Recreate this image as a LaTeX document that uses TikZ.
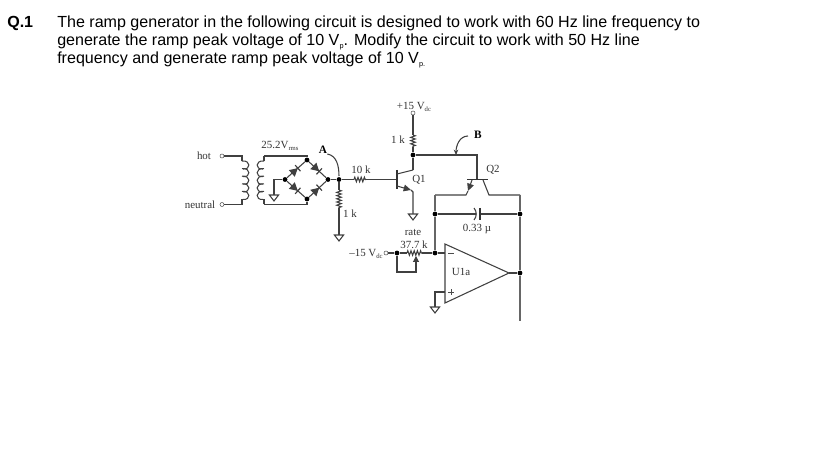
\documentclass[tikz,border=0pt]{standalone}
\usepackage{fontspec}
\setmainfont{Liberation Serif}
\newfontfamily\headfont{Liberation Sans}
\usetikzlibrary{arrows.meta,decorations.pathmorphing,decorations.markings}
\newcommand{\tinysub}[1]{\raisebox{-0.25ex}{\fontsize{5.5}{6}\selectfont #1}}
\newcommand{\lblsub}[1]{\raisebox{-0.3ex}{\fontsize{5}{6}\selectfont #1}}

\begin{document}
\begin{tikzpicture}[
  x=0.75pt,y=-0.75pt,
  wire/.style={draw=black!75,line width=0.8pt},
  heavy/.style={draw=black!60,line width=1.2pt},
  head/.style={anchor=west,inner sep=0pt,font=\fontsize{12.05}{14}\headfont},
  lbl/.style={inner sep=0pt,text=black!80,font=\fontsize{8.2}{10}\selectfont},
  tag/.style={inner sep=0pt,font=\fontsize{8.5}{10}\selectfont\bfseries},
  dot/.style={circle,fill=black,inner sep=0pt,minimum size=3.6pt},
  term/.style={circle,draw=black!70,fill=white,line width=0.4pt,inner sep=0pt,minimum size=3pt},
  resistor/.style={wire,decorate,decoration={zigzag,amplitude=1.7pt,segment length=2.4pt}},
  diode/.style={wire,postaction={decorate,decoration={markings,mark=at position 0.6 with {
    \arrow{Triangle[length=6pt,width=6.5pt]}\draw[line width=0.9pt] (0,-3pt) -- (0,3pt);}}}},
  gnd/.pic={\draw[wire] (-4.6,0) -- (4.6,0) -- (0,6) -- cycle;}
]
\useasboundingbox (0,0) rectangle (819,460);

% question text
\node[head,font=\fontsize{12.05}{14}\headfont\bfseries] (qnum) at (7,23) {Q.1};
\node[head] (line1) at (57,23) {The ramp generator in the following circuit is designed to work with 60 Hz line frequency to};
\node[head] (line2) at (57,42) {generate the ramp peak voltage of 10 V\tinysub{p}. Modify the circuit to work with 50 Hz line};
\node[head] (line3) at (57,60) {frequency and generate ramp peak voltage of 10 V\tinysub{p.}};

% transformer
\node[term] (hot) at (222,156) {};
\node[term] (neutral) at (222,204.5) {};
\coordinate (pritop) at (242,156);
\coordinate (pribot) at (242,204.5);
\coordinate (sectop) at (264,156);
\coordinate (secbot) at (264,204.5);
\draw[wire] (hot) -- (pritop) -- (242,161);
\draw[wire] (neutral) -- (pribot) -- (242,199);
\draw[wire] (sectop) -- (264,161);
\draw[wire] (secbot) -- (264,199);
\foreach \k in {0,...,4}{
  \draw[wire] (242,161+7.6*\k) .. controls (251,160+7.6*\k) and (251,170+7.6*\k) .. (243,169+7.6*\k);
  \draw[wire] (264,161+7.6*\k) .. controls (255,160+7.6*\k) and (255,170+7.6*\k) .. (263,169+7.6*\k);
}

% bridge
\node[dot] (brtop) at (307,160) {};
\node[dot] (brbot) at (307,199) {};
\node[dot] (brleft) at (285,179.5) {};
\node[dot] (brright) at (328,179.5) {};
\draw[diode] (brleft) -- (brtop);
\draw[diode] (brtop) -- (brright);
\draw[diode] (brleft) -- (brbot);
\draw[diode] (brbot) -- (brright);
\draw[wire] (sectop) -- (307,156) -- (brtop);
\draw[wire] (secbot) -- (307,204.5) -- (brbot);
\coordinate (gndA) at (274,195);
\draw[wire] (brleft) -- (274,179.5) -- (gndA);
\pic at (gndA) {gnd};

% node A
\node[dot] (A) at (339,179.5) {};
\coordinate (ra) at (339,190);
\coordinate (rb) at (339,208);
\coordinate (gndB) at (339,235);
\draw[wire] (brright) -- (A);
\draw[wire] (A) -- (ra);
\draw[resistor] (ra) -- (rb);
\draw[wire] (rb) -- (gndB);
\pic at (gndB) {gnd};

% Q1
\coordinate (ba) at (354,179.5);
\coordinate (bb) at (366,179.5);
\coordinate (base) at (397,179.5);
\coordinate (coll) at (413,170);
\coordinate (emit) at (413,192);
\coordinate (gndC) at (413,214);
\draw[wire] (A) -- (ba);
\draw[resistor] (ba) -- (bb);
\draw[wire] (bb) -- (base);
\draw[line width=1.1pt,black!80] (397,170) -- (397,189);
\draw[wire] (397,174) -- (coll);
\draw[wire,-{Triangle[length=5.5pt,width=5pt]}] (397,186) -- (411,190);
\draw[wire] (411,190) -- (emit) -- (gndC);
\pic at (gndC) {gnd};

% supply and B line
\node[term] (vcc) at (413,113) {};
\node[dot] (B) at (413,155) {};
\coordinate (rca) at (413,135);
\coordinate (rcb) at (413,147);
\coordinate (q2c) at (477,179.5);
\draw[wire] (vcc) -- (rca);
\draw[resistor] (rca) -- (rcb);
\draw[wire] (rcb) -- (B) -- (coll);
\draw[wire] (B) -- (477,155) -- (q2c);

% Q2
\node[dot] (left) at (435,214) {};
\node[dot] (right) at (520,214) {};
\node[dot] (inv) at (435,253) {};
\node[dot] (out) at (520,273) {};
\draw[line width=1.1pt,black!80] (467,179.5) -- (488,179.5);
\draw[wire,-{Triangle[length=5.5pt,width=5pt]}] (472,180) -- (468,191);
\draw[wire] (468,191) -- (466,195) -- (435,195);
\draw[wire] (483,180) -- (489,195) -- (520,195);
\draw[heavy] (435,195) -- (left) -- (inv);
\draw[heavy] (520,195) -- (right) -- (out) -- (520,321);

% timing capacitor
\draw[wire] (left) -- (476,214);
\draw[wire] (479,214) -- (right);
\draw[wire] (474,208) to[bend left=40] (474,220);
\draw[line width=0.9pt,black!80] (480,208) -- (480,220);

% op amp
\coordinate (oa1) at (445,244);
\coordinate (oa2) at (445,303);
\coordinate (oa3) at (509,273);
\draw[wire] (oa1) -- (oa2) -- (oa3) -- cycle;
\draw[wire] (oa3) -- (out);
\draw[wire] (inv) -- (445,253);
\draw[line width=0.5pt,black!70] (448,253.5) -- (454,253.5);
\draw[line width=0.5pt,black!70] (448,292) -- (454,292) (451,289) -- (451,295);
\coordinate (gndD) at (435,307);
\draw[wire] (445,292) -- (435,292) -- (gndD);
\pic at (gndD) {gnd};

% rate pot
\node[term] (vee) at (386,253) {};
\node[dot] (wip) at (397,253) {};
\coordinate (pa) at (407,253);
\coordinate (pb) at (422,253);
\draw[wire] (vee) -- (wip) -- (pa);
\draw[resistor] (pa) -- (pb);
\draw[wire] (pb) -- (inv);
\draw[wire,-{Triangle[length=4.4pt,width=4.4pt]}] (wip) -- (397,272) -- (416,272) -- (416,256);

% labels
\node[lbl] (hotlbl) at (204,156) {hot};
\node[lbl] (neutrallbl) at (200,204.5) {neutral};
\node[lbl] (vrms) at (280,146) {25.2V\lblsub{rms}};
\node[lbl] (r10k) at (361,170) {10 k};
\node[lbl] (r1ka) at (350,214) {1 k};
\node[lbl] (r1kb) at (398,140) {1 k};
\node[lbl] (vcclbl) at (414,107) {+15 V\lblsub{dc}};
\node[lbl] (veelbl) at (366,254) {--15 V\lblsub{dc}};
\node[lbl] (q1lbl) at (419,180) {Q1};
\node[lbl] (q2lbl) at (493,170) {Q2};
\node[lbl] (capval) at (477,229) {0.33 µ};
\node[lbl] (ratelbl) at (413,232) {rate};
\node[lbl] (potval) at (414,245) {37.7 k};
\node[lbl] (ualbl) at (461,272) {U1a};
\node[tag] (Atag) at (323,150) {A};
\node[tag] (Btag) at (478,135) {B};
\coordinate (Aend) at (339,176);
\coordinate (Bend) at (456,155);
\draw[wire] (Atag.south east) to[out=-10,in=90] (Aend);
\draw[wire,-{Stealth[length=4pt,width=3.4pt]}] (468,136) to[out=180,in=90] (Bend);
\end{tikzpicture}
\end{document}
